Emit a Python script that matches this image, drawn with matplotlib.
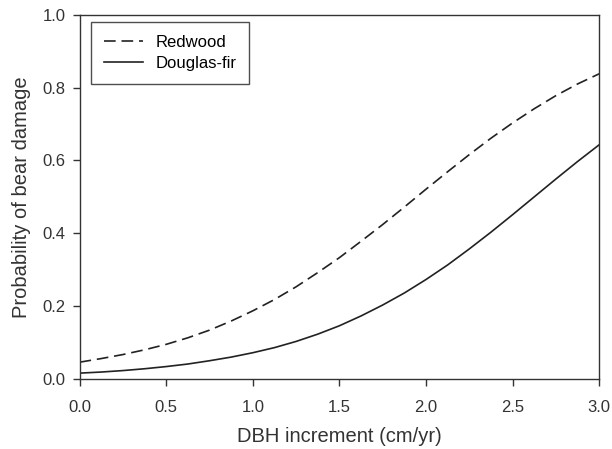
import matplotlib
matplotlib.use("Agg")
import matplotlib.pyplot as plt

plt.rcParams['font.family'] = ['Liberation Sans', 'DejaVu Sans']

# values
dbh = [0.0, 0.125, 0.25, 0.375, 0.5, 0.625, 0.75, 0.875, 1.0, 1.125, 1.25, 1.375, 1.5,
       1.625, 1.75, 1.875, 2.0, 2.125, 2.25, 2.375, 2.5, 2.625, 2.75, 2.875, 3.0]
redwood = [0.046, 0.056, 0.067, 0.080, 0.095, 0.113, 0.134, 0.159, 0.187, 0.218, 0.253,
           0.292, 0.333, 0.378, 0.424, 0.472, 0.521, 0.569, 0.616, 0.661, 0.703, 0.742,
           0.778, 0.810, 0.838]
douglas = [0.016, 0.019, 0.023, 0.028, 0.034, 0.041, 0.050, 0.060, 0.072, 0.086, 0.103,
           0.123, 0.146, 0.173, 0.203, 0.236, 0.273, 0.313, 0.357, 0.403, 0.451, 0.500,
           0.549, 0.597, 0.643]
xticks = [0.0, 0.5, 1.0, 1.5, 2.0, 2.5, 3.0]
yticks = [0.0, 0.2, 0.4, 0.6, 0.8, 1.0]

fig = plt.figure(figsize=(6.12, 4.49), dpi=100)
ax = fig.add_axes([0.13, 0.156, 0.849, 0.811])

ax.plot(dbh, redwood, color='#222222', lw=1.2, dashes=(7, 3.5), label='Redwood')
ax.plot(dbh, douglas, color='#222222', lw=1.2, label='Douglas-fir')

ax.set_xlim(0, 3)
ax.set_ylim(0, 1)
ax.set_xticks(xticks)
ax.set_yticks(yticks)
ax.set_xticklabels([f"{t:.1f}" for t in xticks])
ax.set_yticklabels([f"{t:.1f}" for t in yticks])
ax.tick_params(direction='out', length=5, width=1, labelsize=12, colors='#333333')
ax.tick_params(axis='x', pad=10)
ax.tick_params(axis='y', pad=5)
for s in ax.spines.values():
    s.set_color('#333333')
    s.set_linewidth(1)

ax.set_xlabel('DBH increment (cm/yr)', fontsize=14.5, color='#333333', labelpad=9)
ax.set_ylabel('Probability of bear damage', fontsize=14.5, color='#333333', labelpad=8)

leg = ax.legend(loc='upper left', bbox_to_anchor=(0.022, 0.981), fontsize=12,
                frameon=True, fancybox=False, handlelength=2.3, borderpad=0.8,
                labelspacing=0.35, handletextpad=0.75, borderaxespad=0)
leg.get_frame().set_edgecolor('#222222')
leg.get_frame().set_linewidth(1)

fig.savefig('out.png', dpi=100)
